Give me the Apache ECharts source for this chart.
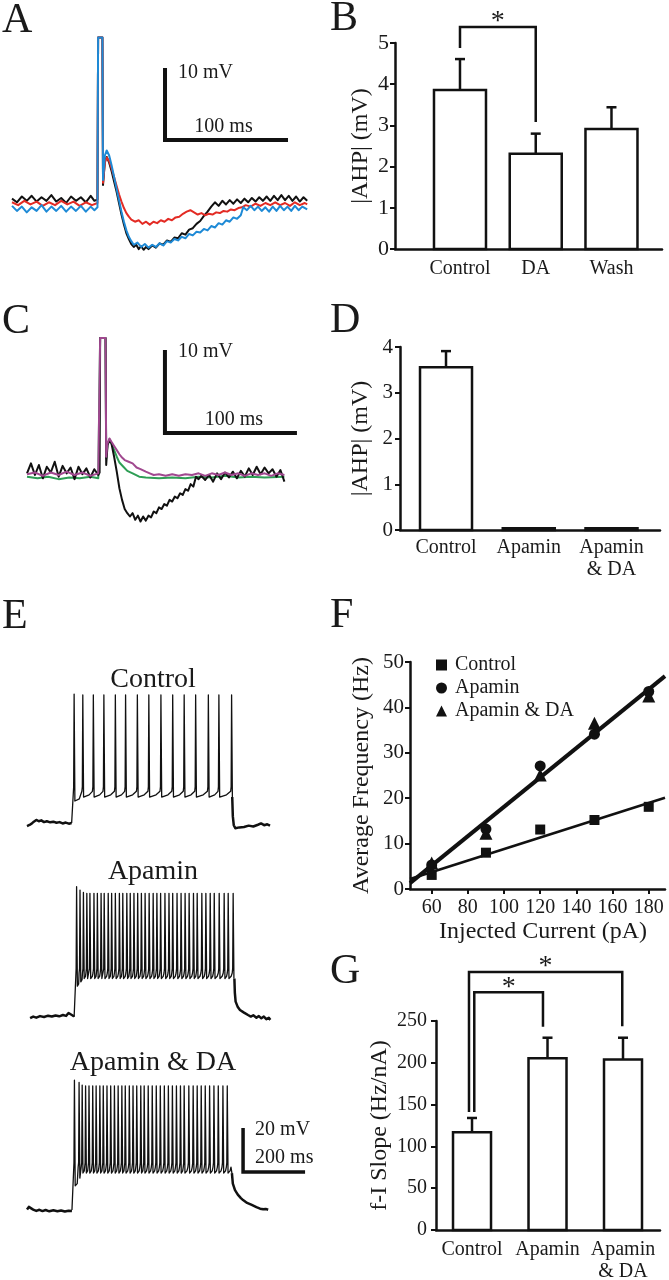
<!DOCTYPE html>
<html>
<head>
<meta charset="utf-8">
<script src="https://cdn.jsdelivr.net/npm/echarts@6/dist/echarts.min.js"></script>
<style>
  html, body { margin: 0; padding: 0; background: #fff; }
  #chart { width: 669px; height: 1280px; }
</style>
</head>
<body>
<div id="chart"></div>
<script>
// ---------- data ----------
// A: single AHP, time (ms) vs membrane potential (mV, relative to baseline)
var traceAControl = [[0,0.6],[4,0.1],[8,0.9],[12,0.3],[16,1.0],[20,0.2],[24,0.8],[28,0.3],[32,1.1],[36,0.2],[40,0.7],[44,0.0],[48,0.9],[52,0.3],[56,0.8],[60,0.1],[64,1.0],[67,0.3],[69.5,0.5],[70,23],[73.5,23],[74,2.5],[75.5,5.8],[77,6.4],[79,5.6],[81,4.4],[83,3.0],[85,1.6],[87,0.0],[89,-1.6],[91,-3.0],[93,-4.2],[95,-5.0],[97,-5.7],[99,-6.1],[101,-5.8],[103,-6.4],[105,-6.0],[107,-6.5],[109,-6.1],[111,-6.4],[114,-5.9],[117,-6.2],[120,-5.6],[123,-5.8],[126,-5.2],[129,-5.4],[132,-4.8],[135,-4.9],[138,-4.2],[141,-4.4],[144,-3.7],[147,-3.5],[150,-2.9],[153,-2.5],[156,-1.8],[159,-1.2],[162,-0.5],[165,0.1],[168,-0.4],[171,0.3],[174,-0.2],[177,0.4],[180,-0.1],[183,0.5],[186,0.0],[189,0.6],[192,0.1],[195,0.7],[198,0.2],[201,0.8],[204,0.3],[207,0.9],[210,0.3],[213,1.0],[216,0.4],[219,1.1],[222,0.4],[225,1.0],[228,0.3],[231,0.9],[234,0.2],[237,0.8],[240,0.3]];
var traceADA = [[0,0.1],[5,-0.3],[10,0.3],[15,-0.2],[20,0.2],[25,-0.4],[30,0.1],[35,-0.3],[40,0.3],[45,-0.2],[50,0.2],[55,-0.4],[60,0.1],[65,-0.3],[69.5,0.0],[70,23],[73.5,23],[74,2.8],[75.5,5.6],[77,6.3],[79,5.8],[81,4.8],[83,3.6],[85,2.4],[87,1.2],[89,0.2],[91,-0.7],[93,-1.4],[95,-1.9],[97,-2.3],[100,-2.6],[103,-2.4],[106,-2.9],[109,-2.6],[112,-3.0],[115,-2.6],[118,-2.8],[121,-2.4],[124,-2.6],[127,-2.2],[130,-2.4],[133,-2.0],[136,-1.9],[139,-1.5],[142,-1.2],[145,-1.0],[148,-1.3],[151,-1.6],[154,-1.4],[157,-1.7],[160,-1.5],[163,-1.6],[166,-1.3],[169,-1.4],[172,-1.1],[175,-1.2],[178,-0.9],[181,-1.0],[184,-0.7],[187,-0.6],[190,-0.3],[194,-0.5],[198,-0.1],[202,-0.4],[206,0.0],[210,-0.3],[214,0.1],[218,-0.3],[222,0.0],[226,-0.4],[230,0.1],[234,-0.3],[238,0.0],[240,-0.2]];
var traceAWash = [[0,-0.4],[4,-1.1],[8,-0.5],[12,-1.3],[16,-0.6],[20,-1.1],[24,-0.3],[28,-1.2],[32,-0.5],[36,-1.1],[40,-0.4],[44,-1.2],[48,-0.5],[52,-1.1],[56,-0.4],[60,-1.2],[64,-0.5],[67,-1.0],[69.5,-0.6],[70,23],[73.5,23],[74,3.2],[75.5,6.6],[77,7.3],[79,6.6],[81,5.2],[83,3.6],[85,2.0],[87,0.4],[89,-1.2],[91,-2.6],[93,-3.8],[95,-4.7],[97,-5.3],[99,-5.8],[102,-5.5],[105,-6.1],[108,-5.7],[111,-6.2],[114,-5.8],[117,-6.1],[120,-5.6],[123,-5.9],[126,-5.3],[129,-5.5],[132,-5.0],[135,-5.2],[138,-4.7],[141,-4.9],[144,-4.3],[147,-4.5],[150,-4.0],[153,-4.1],[156,-3.6],[159,-3.8],[162,-3.2],[165,-3.4],[168,-2.8],[171,-3.0],[174,-2.4],[177,-2.6],[180,-2.0],[183,-2.2],[186,-1.7],[188,-0.6],[191,-1.0],[194,-0.4],[197,-1.0],[200,-0.5],[203,-1.1],[206,-0.6],[209,-1.2],[212,-0.5],[215,-1.1],[218,-0.4],[221,-1.0],[224,-0.5],[227,-1.1],[230,-0.4],[233,-1.0],[236,-0.5],[240,-0.9]];
var scaleA = { t: 124.4, v: 8.75, ms: 100, mV: 10 };

// B: |AHP| (mV)
var bCategories = ['Control', 'DA', 'Wash'];
var bMeans = [3.86, 2.31, 2.91];
var bSem = [0.75, 0.49, 0.53];
var bSig = [[1, 2, 5.39, 4.88, 3.08]]; // x1, x2, bracket level, left end, right end

// C: AHP with apamin
var traceCControl = [[0,0.2],[3,1.4],[6,0.0],[9,1.2],[12,-0.4],[15,1.0],[18,0.3],[21,1.6],[24,-0.2],[27,1.1],[30,0.2],[33,0.9],[36,-0.5],[39,1.0],[42,0.1],[45,0.8],[48,-0.3],[51,0.7],[54,0.0],[55,0.3],[55.4,16.5],[59.5,16.5],[60,1.2],[61,3.6],[62.5,4.3],[64,3.8],[66,2.2],[68,0.4],[70,-1.6],[72,-3.0],[74,-4.1],[76,-4.6],[78,-5.0],[80,-4.6],[82,-5.4],[84,-4.9],[86,-5.6],[88,-5.0],[90,-5.5],[92,-4.9],[94,-5.1],[96,-4.4],[98,-4.6],[100,-3.9],[102,-4.1],[104,-3.5],[106,-3.7],[108,-3.0],[110,-3.2],[112,-2.6],[114,-2.8],[116,-2.2],[118,-2.4],[120,-1.7],[122,-1.9],[124,-1.1],[126,-1.4],[128,-0.2],[130,-0.5],[132,-0.1],[135,-0.6],[138,0.0],[141,-0.8],[144,0.2],[147,-0.5],[150,0.3],[153,-0.3],[156,0.4],[159,-0.4],[162,0.5],[165,-0.2],[168,0.8],[171,0.0],[174,1.0],[177,0.1],[180,0.9],[183,0.2],[186,0.7],[189,-0.2],[192,0.6],[195,-0.8]];
var traceCApamin = [[0,-0.2],[8,-0.4],[16,-0.2],[24,-0.5],[32,-0.3],[40,-0.4],[48,-0.2],[54,-0.4],[55,-0.3],[55.4,16.5],[59.5,16.5],[60,2.0],[61,3.6],[62.5,4.2],[64,3.8],[66,3.0],[68,2.2],[70,1.5],[73,1.0],[76,0.5],[80,0.2],[85,-0.2],[90,-0.3],[100,-0.4],[110,-0.3],[120,-0.4],[130,-0.2],[140,-0.3],[150,-0.1],[160,-0.3],[170,-0.2],[180,-0.3],[195,-0.2]];
var traceCApaminDA = [[0,0.1],[6,0.3],[12,-0.1],[18,0.3],[24,0.0],[30,0.4],[36,0.0],[42,0.3],[48,-0.1],[54,0.2],[55,0.1],[55.4,16.5],[59.5,16.5],[60,2.2],[61,3.8],[62.5,4.4],[64,4.0],[66,3.5],[68,3.0],[70,2.5],[72,2.1],[74,1.8],[77,1.6],[80,1.4],[83,0.9],[86,0.7],[90,0.4],[93,0.2],[96,0.0],[100,0.1],[105,-0.1],[110,0.1],[115,-0.1],[120,0.1],[125,0.0],[130,0.2],[135,-0.1],[140,0.2],[145,0.0],[150,0.3],[155,0.0],[160,0.2],[165,-0.1],[170,0.2],[175,0.0],[180,0.2],[185,-0.1],[190,0.2],[195,0.0]];
var scaleC = { t: 104.5, v: 5.06, ms: 100, mV: 10 };

// D: |AHP| (mV) with apamin
var dCategories = ['Control', 'Apamin', 'Apamin\n& DA'];
var dMeans = [3.56, 0.04, 0.04];
var dSem = [0.35, 0, 0];

// E: firing during current step, ms vs mV (relative to rest)
var eControlPre = [[0,-1.4],[8,-0.9],[15,-0.3],[22,0.6],[30,1.4],[38,0.8],[46,1.2],[55,0.4],[64,0.8],[75,0.3],[85,0.6],[95,0.1],[105,0.4],[115,-0.2],[125,0.2],[135,-0.3],[144,0]];
var eControlSpikes = [152, 180, 214, 248, 285, 318, 356, 393, 432, 470, 507, 544, 585, 619, 660];
var eControlPeaks = [58.6, 58.2];
var eControlTroughs = [10, 11.8];
var eControlPost = [[662,11.8],[664,3],[667,-1],[672,-2.4],[685,-2.0],[700,-1.8],[715,-1.2],[730,-1.6],[745,-0.8],[755,-0.2],[765,-1.0],[775,-0.6],[784,-1.2]];

var eApaminPre = [[10,-0.5],[20,0.2],[30,-0.3],[42,0.4],[55,0],[68,0.6],[80,0.2],[92,0.7],[104,0.3],[116,0.9],[126,0.5],[134,1.8],[140,2.4],[146,0.8],[152,0.2]];
var eApaminSpikes = [160, 171, 182, 193, 203, 216, 227, 239, 249, 262, 273, 285, 298, 309, 322, 333, 345, 357, 369, 381, 394, 407, 419, 431, 445, 458, 470, 484, 497, 510, 523, 537, 549, 564, 577, 591, 604, 620, 636, 649, 665];
var eApaminPeaks = [59.2, 57.7, 56.6, 56.2];
var eApaminTroughs = [14, 16, 17.5];
var eApaminPost = [[669,17.5],[670.5,11],[673,7],[680,4.5],[687,3.2],[700,2],[713,0.9],[722,0.2],[730,0.8],[740,-0.3],[748,0.4],[756,-0.6],[764,0.2],[772,-1.0],[780,-0.4],[785,-1.3]];

var eApaminDAPre = [[0,0.2],[6,1.4],[12,0.8],[20,0.2],[30,-0.4],[40,0.1],[50,-0.5],[60,0],[72,-0.6],[85,-0.1],[98,-0.6],[110,-0.2],[122,-0.7],[134,-0.3],[145,-0.4]];
var eApaminDASpikes = [153, 168, 178, 189, 200, 212, 223, 235, 246, 258, 270, 282, 294, 306, 317, 330, 342, 354, 367, 378, 391, 404, 417, 430, 443, 456, 469, 482, 495, 507, 522, 536, 549, 562, 575, 589, 603, 617, 632, 646];
var eApaminDAPeaks = [59.0, 58.0, 56.8, 56.4];
var eApaminDATroughs = [11, 14.5, 16.8];
var eApaminDAPost = [[661,16.8],[664,12],[671,9],[680,7],[690,5.4],[697,4.5],[710,3.2],[725,2.3],[740,1.3],[752,0.6],[762,0.3],[770,0.5],[778,0.1]];
var scaleE = { t: 697, v: 17.3, ms: 200, mV: 20 };

// F: f-I relation
var fCurrents = [60, 90, 120, 150, 180];
var fControl = [3.1, 8.0, 13.1, 15.2, 18.1];
var fApamin = [5.3, 13.2, 27.1, 34.1, 43.5];
var fApaminDA = [5.7, 12.3, 25.1, 36.5, 42.5];
var fFitControl = [[48, 2.2], [189, 20.1]];
var fFitApamin = [[48, 1.3], [189, 46.9]];
var fTicks = [60, 80, 100, 120, 140, 160, 180];

// G: f-I slope (Hz/nA)
var gCategories = ['Control', 'Apamin', 'Apamin\n& DA'];
var gMeans = [117, 205.5, 204];
var gSem = [17, 24.5, 26];
var gSig = [[0.96, 2.99, 308.5, 141, 243.7], [1.03, 1.94, 284.3, 141, 243]];

// ---------- helpers ----------
var INK = '#1a1a1a';
var FONT = 'Liberation Serif';

function spikeTrain (onset, offset, spikes, peaks, troughs, pre) {
  var pts = [[onset, 0]];
  spikes.forEach(function (ts, i) {
    var next = i + 1 < spikes.length ? spikes[i + 1] : offset;
    var tr = troughs[Math.min(i, troughs.length - 1)];
    pts.push([ts - 1.5, pre], [ts, peaks[Math.min(i, peaks.length - 1)]], [ts + 2.5, tr]);
    if (next - ts > 10) {
      pts.push([ts + (next - ts) * 0.6, tr + 1], [next - 3, pre - 2]);
    }
  });
  pts.push([offset, troughs[troughs.length - 1]]);
  return pts;
}

function traceLine (idx, data, color, width) {
  return {
    type: 'line', xAxisIndex: idx, yAxisIndex: idx, data: data,
    symbol: 'none', silent: true,
    lineStyle: { color: color, width: width, join: 'round' }
  };
}

function hiddenAxis (idx, min, max) {
  return { type: 'value', gridIndex: idx, min: min, max: max, show: false };
}

function scaleBar (idx, bar, opt) {
  return {
    type: 'custom', xAxisIndex: idx, yAxisIndex: idx, data: [[bar.t, bar.v]], clip: false, silent: true,
    renderItem: function (params, api) {
      var corner = api.coord([bar.t, bar.v]);
      var top = api.coord([bar.t, bar.v + bar.mV]);
      var end = api.coord([bar.t + bar.ms, bar.v]);
      var txt = { font: '20px "' + FONT + '"', fill: INK, verticalAlign: 'middle' };
      return {
        type: 'group',
        children: [
          { type: 'polyline', shape: { points: [top, corner, end] },
            style: { stroke: '#111', lineWidth: opt.width, fill: null, lineJoin: 'miter' } },
          { type: 'text', style: Object.assign({ text: bar.mV + ' mV', x: corner[0] + opt.mvDx, y: top[1] + opt.mvDy, align: 'left' }, txt) },
          { type: 'text', style: Object.assign({
            text: bar.ms + ' ms',
            x: opt.msAlign === 'center' ? (corner[0] + end[0]) / 2 + opt.msDx : corner[0] + opt.msDx,
            y: corner[1] - opt.msDy, align: opt.msAlign }, txt) }
        ]
      };
    }
  };
}

function barSeries (idx, names, means, sems, barW, labelGap) {
  var data = means.map(function (m, i) { return [i + 1, m, m + sems[i]]; });
  return {
    type: 'custom', xAxisIndex: idx, yAxisIndex: idx, data: data, clip: false, silent: true,
    renderItem: function (params, api) {
      var i = params.dataIndex;
      var base = api.coord([api.value(0), 0]);
      var top = api.coord([api.value(0), api.value(1)]);
      var err = api.coord([api.value(0), api.value(2)]);
      var x = base[0];
      var line = { stroke: '#111', lineWidth: 2.5 };
      var kids = [];
      if (err[1] < top[1] - 1) {
        kids.push({ type: 'line', shape: { x1: x, y1: top[1], x2: x, y2: err[1] }, style: line });
        kids.push({ type: 'line', shape: { x1: x - 5, y1: err[1], x2: x + 5, y2: err[1] }, style: line });
      }
      kids.push({ type: 'rect', shape: { x: x - barW / 2, y: top[1], width: barW, height: base[1] - top[1] },
        style: { fill: '#fff', stroke: '#111', lineWidth: 2.5 } });
      kids.push({ type: 'text', style: { text: names[i], x: x, y: base[1] + labelGap, align: 'center',
        verticalAlign: 'top', font: '20px "' + FONT + '"', lineHeight: 22, fill: INK } });
      return { type: 'group', children: kids };
    }
  };
}

function sigSeries (idx, brackets) {
  return {
    type: 'custom', xAxisIndex: idx, yAxisIndex: idx, data: brackets, clip: false, silent: true,
    renderItem: function (params, api) {
      var p1 = api.coord([api.value(0), api.value(3)]);
      var p2 = api.coord([api.value(0), api.value(2)]);
      var p3 = api.coord([api.value(1), api.value(2)]);
      var p4 = api.coord([api.value(1), api.value(4)]);
      return {
        type: 'group',
        children: [
          { type: 'polyline', shape: { points: [p1, p2, p3, p4] },
            style: { stroke: '#111', lineWidth: 2.5, fill: null } },
          { type: 'text', style: { text: '*', x: (p2[0] + p3[0]) / 2, y: p2[1] - 5, align: 'center',
            verticalAlign: 'middle', font: '28px "' + FONT + '"', fill: INK } }
        ]
      };
    }
  };
}

function barXAxis (idx, min, max) {
  return {
    type: 'value', gridIndex: idx, min: min, max: max,
    axisLine: { show: true, onZero: false, lineStyle: { color: '#111', width: 2.5 } },
    axisTick: { show: false }, axisLabel: { show: false }, splitLine: { show: false }
  };
}

function valueYAxis (idx, max, interval, name, nameGap, labelSize, margin) {
  return {
    type: 'value', gridIndex: idx, min: 0, max: max, interval: interval,
    name: name, nameLocation: 'middle', nameGap: nameGap,
    nameTextStyle: { fontSize: 24, color: INK, fontFamily: FONT },
    axisLine: { show: true, lineStyle: { color: '#111', width: 2.5 } },
    axisTick: { show: true, length: 5, lineStyle: { color: '#111', width: 2 } },
    axisLabel: { fontSize: labelSize, color: INK, fontFamily: FONT, margin: margin },
    splitLine: { show: false }
  };
}

function letter (ch, x, y) {
  return { type: 'text', x: x, y: y, style: { text: ch, font: '42px "' + FONT + '"', fill: INK, verticalAlign: 'middle' } };
}

function caption (txt, x, y) {
  return { type: 'text', x: x, y: y, style: { text: txt, font: '28px "' + FONT + '"', fill: INK, align: 'center', verticalAlign: 'middle' } };
}

function scatterSeries (name, symbol, size, values) {
  return {
    name: name, type: 'scatter', xAxisIndex: 7, yAxisIndex: 7, symbol: symbol, symbolSize: size,
    itemStyle: { color: '#111', opacity: 1 },
    data: fCurrents.map(function (c, i) { return [c, values[i]]; })
  };
}

// ---------- chart ----------
var chart = echarts.init(document.getElementById('chart'));

chart.setOption({
  animation: false,
  backgroundColor: '#fff',
  textStyle: { fontFamily: FONT, color: INK },
  grid: [
    { left: 12, top: 30.2, width: 295.2, height: 223.2 },
    { left: 395, top: 43, width: 267, height: 206 },
    { left: 27, top: 333.9, width: 270.6, height: 199.2 },
    { left: 400, top: 347, width: 260, height: 183 },
    { left: 27, top: 686.6, width: 279, height: 147.4 },
    { left: 27, top: 880.6, width: 279, height: 147.4 },
    { left: 27, top: 1073.6, width: 279, height: 147.4 },
    { left: 410, top: 662, width: 255, height: 227 },
    { left: 436, top: 1021, width: 224, height: 209 }
  ],
  xAxis: [
    hiddenAxis(0, 0, 240),
    barXAxis(1, 0.142, 3.667),
    hiddenAxis(2, 0, 205),
    barXAxis(3, 0.444, 3.586),
    hiddenAxis(4, 0, 900),
    hiddenAxis(5, 0, 900),
    hiddenAxis(6, 0, 900),
    {
      type: 'value', gridIndex: 7, min: 48, max: 189,
      name: 'Injected Current (pA)', nameLocation: 'middle', nameGap: 31,
      nameTextStyle: { fontSize: 24, color: INK, fontFamily: FONT, padding: [0, 0, 0, 11] },
      axisLine: { show: true, onZero: false, lineStyle: { color: '#111', width: 2.5 } },
      axisTick: { show: true, length: 5, customValues: fTicks, lineStyle: { color: '#111', width: 2 } },
      axisLabel: { customValues: fTicks, fontSize: 20, color: INK, fontFamily: FONT, margin: 9 },
      splitLine: { show: false }
    },
    barXAxis(8, 0.523, 3.49)
  ],
  yAxis: [
    hiddenAxis(0, -7, 24),
    valueYAxis(1, 5, 1, '|AHP| (mV)', 22, 22, 6),
    hiddenAxis(2, -7, 17),
    valueYAxis(3, 4, 1, '|AHP| (mV)', 27, 21, 7),
    hiddenAxis(4, -5, 62),
    hiddenAxis(5, -5, 62),
    hiddenAxis(6, -5, 62),
    valueYAxis(7, 50, 10, 'Average Frequency (Hz)', 36, 21, 6),
    valueYAxis(8, 250, 50, 'f-I Slope (Hz/nA)', 44, 20, 9)
  ],
  legend: {
    data: [
      { name: 'Control', icon: 'rect' },
      { name: 'Apamin', icon: 'circle' },
      { name: 'Apamin & DA', icon: 'triangle' }
    ],
    orient: 'vertical', left: 431, top: 650, itemWidth: 11, itemHeight: 11, itemGap: 3,
    selectedMode: false,
    itemStyle: { color: '#111', opacity: 1 },
    textStyle: { fontSize: 20, color: INK, fontFamily: FONT, padding: [0, 0, 0, 3], lineHeight: 20 }
  },
  graphic: [
    letter('A', 2, 20.5), letter('B', 330, 19), letter('C', 2, 322), letter('D', 330, 321),
    letter('E', 2, 617), letter('F', 330, 616), letter('G', 330, 972),
    caption('Control', 153, 680), caption('Apamin', 153, 872), caption('Apamin & DA', 153, 1063)
  ],
  series: [
    // A
    traceLine(0, traceAControl, '#111', 2),
    traceLine(0, traceADA, '#e32b24', 2),
    traceLine(0, traceAWash, '#1e8ad6', 2),
    scaleBar(0, scaleA, { width: 4, mvDx: 13, mvDy: 5, msAlign: 'center', msDx: -3, msDy: 13 }),
    // B
    barSeries(1, bCategories, bMeans, bSem, 52, 9),
    sigSeries(1, bSig),
    // C
    traceLine(2, traceCApamin, '#2e9e55', 2),
    traceLine(2, traceCControl, '#111', 2),
    traceLine(2, traceCApaminDA, '#a0488f', 2),
    scaleBar(2, scaleC, { width: 4, mvDx: 13, mvDy: 2, msAlign: 'center', msDx: 3, msDy: 13 }),
    // D
    barSeries(3, dCategories, dMeans, dSem, 52, 7),
    // E
    traceLine(4, eControlPre, '#111', 2.5),
    traceLine(4, spikeTrain(144, 662, eControlSpikes, eControlPeaks, eControlTroughs, 16.4), '#111', 1.3),
    traceLine(4, eControlPost, '#111', 2.5),
    traceLine(5, eApaminPre, '#111', 2.5),
    traceLine(5, spikeTrain(152, 669, eApaminSpikes, eApaminPeaks, eApaminTroughs, 22), '#111', 1.3),
    traceLine(5, eApaminPost, '#111', 2.5),
    traceLine(6, eApaminDAPre, '#111', 2.5),
    traceLine(6, spikeTrain(145, 661, eApaminDASpikes, eApaminDAPeaks, eApaminDATroughs, 21.5), '#111', 1.3),
    traceLine(6, eApaminDAPost, '#111', 2.5),
    scaleBar(6, scaleE, { width: 3.5, mvDx: 12, mvDy: 2, msAlign: 'left', msDx: 12, msDy: 14 }),
    // F
    traceLine(7, fFitControl, '#111', 2.5),
    traceLine(7, fFitApamin, '#111', 4),
    scatterSeries('Control', 'rect', 10, fControl),
    scatterSeries('Apamin', 'circle', 11, fApamin),
    scatterSeries('Apamin & DA', 'triangle', 13, fApaminDA),
    // G
    barSeries(8, gCategories, gMeans, gSem, 38, 9),
    sigSeries(8, gSig)
  ]
});
</script>
</body>
</html>
